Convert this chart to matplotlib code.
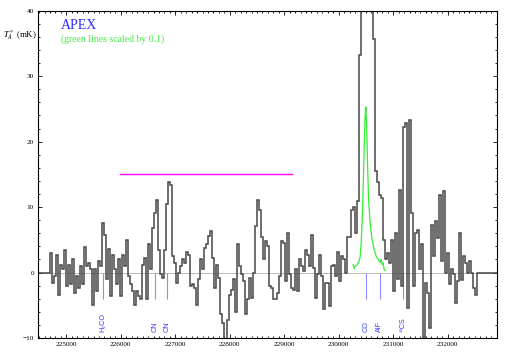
import numpy as np
import matplotlib
matplotlib.use("Agg")
import matplotlib.pyplot as plt
from matplotlib.ticker import MultipleLocator

plt.rcParams['mathtext.fontset'] = 'stix'

# ---- data ----
chan_start = 224698.0      # MHz, left edge of first channel
chan_width = 36.63         # MHz
spectrum = [
    3.0, -1.6, -0.5, 2.7, -3.5, 1.2, 0.5, 3.4, -2.0, 1.2,
    -1.8, 2.1, -3.1, -0.5, -2.3, 1.0, -1.8, 3.9, 1.0, 1.4,
    0.5, -4.9, 0.5, -2.8, 1.7, 1.0, 7.5, 5.8, -1.0, 3.6,
    -3.6, 2.7, 0.5, -1.8, 2.0, -3.6, 2.7, 1.0, 5.0, -0.5,
    -1.8, -2.8, -4.9, -2.8, -3.6, -4.1, 1.2, 2.2, -4.1, 4.3,
    0.5, 6.8, 9.1, 11.1, 3.5, -0.2, -0.8, 3.5, 10.4, 13.9,
    13.4, 2.5, 1.5, -1.6, 0.0, 1.0, 2.0, 1.5, 3.2, 2.7,
    -2.1, -1.8, -2.3, -4.9, -1.0, 2.0, 0.5, 3.8, 4.3, 5.6,
    6.4, 2.2, -2.3, 1.2, -0.8, -6.4, -7.7, -11.0, -10.5, -7.2,
    -3.4, -2.6, -1.0, -6.1, 4.3, 1.0, -0.3, -1.3, -6.4, -4.1,
    -0.8, -3.9, 0.0, 7.1, 11.1, 9.6, 5.5, 2.0, 4.8, 4.0,
    -2.1, -2.3, -4.1, -4.1, -3.1, -0.6, 4.8, 4.5, -1.3, 6.0,
    -0.3, -2.3, -2.6, 0.5, -2.8, 2.0, 1.0, 0.2, 3.5, 2.7,
    1.0, 5.8, 0.7, -3.9, -0.3, 2.7, -0.6, -5.6, -1.6, -1.6,
    -5.1, 1.0, 1.2, -0.5, 3.2, -1.3, 2.5, 2.0, 0.0, 5.5,
    5.5, 9.5, 10.0, 6.0, 11.0, 33.2, 80.0, 180.0, 250.0, 200.0,
    110.0, 60.0, 35.7, 15.5, 13.9, 11.8, 11.4, 5.0, 2.0, 3.0,
    1.5, 5.0, -2.8, 6.0, -1.0, 12.6, -2.1, 22.3, 22.8, -5.4,
    23.3, 9.1, -2.1, 6.0, 6.5, 0.5, 4.3, -9.8, -1.6, -3.1,
    -8.4, 7.3, 2.5, 7.8, 5.3, 11.9, 1.7, 12.4, 0.0, 3.0,
    -1.8, 0.5, -0.2, -4.6, -1.3, 6.0, -1.1, 2.5, 1.5, 0.0,
    1.7, 0.0, -2.3, -3.4,
]

green_freq = [230266, 230284, 230302, 230339, 230376, 230394, 230412, 230431,
              230449, 230467, 230485, 230498, 230513, 230531, 230549, 230577,
              230613, 230650, 230687, 230723, 230760, 230778, 230797, 230815,
              230833, 230852]
green_T = [1.2, 0.6, 1.0, 1.2, 1.8, 2.5, 4.5, 8.0, 13.0, 19.0, 24.0, 25.3,
           22.0, 16.0, 11.0, 7.5, 5.0, 3.5, 2.5, 2.0, 1.5, 2.0, 1.2, 1.5,
           0.5, 0.3]

line_names = ['H₂CO', 'CN', 'CN', 'CO', 'AlF', '¹³CS']
line_freqs = [225668, 226634, 226846, 230498, 230755, 231181]

magenta_range = [225980, 229150]
magenta_level = 15

xlim = (224480, 232905)
ylim = (-10, 40)

# ---- figure ----
fig = plt.figure(figsize=(5.09, 3.56), dpi=100)
ax = fig.add_axes([0.0747, 0.0506, 0.9017, 0.9194])

n = len(spectrum)
edges = chan_start + chan_width * np.arange(n + 1)
vals = np.concatenate([[0.0], spectrum, [0.0]])
edges_full = np.concatenate([[xlim[0]], edges, [xlim[1]]])

ax.axhline(0, color='#a0a0a0', lw=0.5, zorder=1)
ax.vlines(line_freqs, -4, 0, color='#8c8cff', lw=0.8, zorder=1.5)
ax.stairs(vals, edges_full, baseline=None, color='#474747', lw=1.1, zorder=2)
ax.plot(green_freq, green_T, color='#33ee33', lw=0.9, zorder=3)
ax.plot(magenta_range, [magenta_level, magenta_level], color='#ff00ff', lw=1.0, zorder=3)

for name, f in zip(line_names, line_freqs):
    ax.text(f, -9.1, name, rotation=90, ha='center', va='bottom',
            color='#3b3bff', fontsize=5.2, family=['Liberation Sans', 'DejaVu Sans'])

ax.set_xlim(*xlim)
ax.set_ylim(*ylim)
ax.xaxis.set_major_locator(MultipleLocator(1000))
ax.xaxis.set_minor_locator(MultipleLocator(100))
ax.yaxis.set_major_locator(MultipleLocator(10))
ax.yaxis.set_minor_locator(MultipleLocator(2))
ax.tick_params(which='both', direction='in', top=True, right=True, width=0.6)
ax.tick_params(which='major', length=2.6, labelsize=5.2, pad=3)
ax.tick_params(which='minor', length=1.3)
for lab in ax.get_xticklabels() + ax.get_yticklabels():
    lab.set_family('Liberation Serif')
for s in ax.spines.values():
    s.set_linewidth(0.8)

ax.text(0.05, 0.944, 'APEX', transform=ax.transAxes, color='#2a2aff',
        fontsize=10.0, family='Liberation Serif', va='baseline')
ax.text(0.05, 0.906, '(green lines scaled by 0.1)', transform=ax.transAxes,
        color='#44ee44', fontsize=7, family='Liberation Serif', va='baseline')
fig.text(3 / 509, 1 - 35 / 356, r'$T_A^*$ (mK)', fontsize=6.3,
         family='Liberation Serif', va='center', ha='left')

fig.savefig('out.png', dpi=100)
